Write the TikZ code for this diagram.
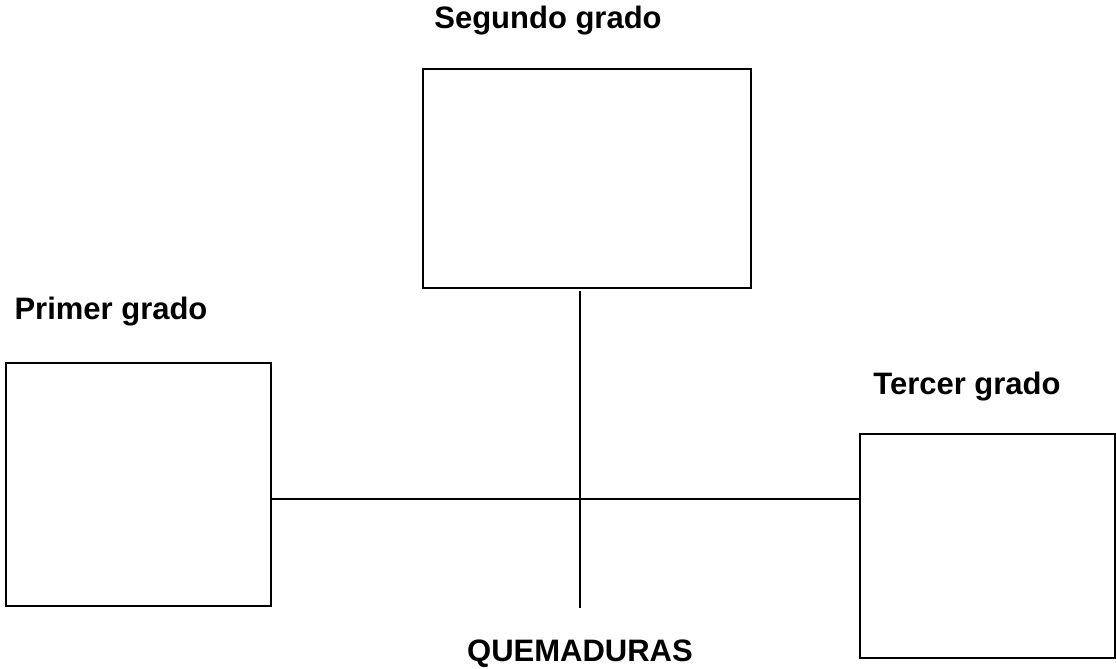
\documentclass[tikz,border=0pt]{standalone}
\usepackage{fontspec}
\setmainfont{Liberation Sans}

\begin{document}
\begin{tikzpicture}[x=0.5pt, y=-0.5pt, line width=1pt,
		every node/.style={font=\fontsize{15.5}{18}\selectfont\bfseries, anchor=base},
		burnbox/.style={draw, inner sep=0pt, anchor=north west}]
			\useasboundingbox (0,0) rectangle (1116,669);

			% Boxes
			\node[burnbox, minimum width=164pt, minimum height=109.5pt] (segundo) at (422,68) {};
			\node[burnbox, minimum width=132.5pt, minimum height=121.5pt] (primer) at (5,362) {};
			\node[burnbox, minimum width=127.5pt, minimum height=112pt] (tercer) at (859,433) {};

			% Labels
			\node (segundolbl) at (548,28) {Segundo grado};
			\node (primerlbl) at (111,319) {Primer grado};
			\node (tercerlbl) at (967,394) {Tercer grado};
			\node (quemlbl) at (580,661) {QUEMADURAS};

			% Connectors
			\coordinate (top) at (580,291);
			\coordinate (bottom) at (580,608);
			\draw (top) -- (bottom);
			\draw (primer.east |- 0,499) -- (tercer.west |- 0,499);
		\end{tikzpicture}
\end{document}
